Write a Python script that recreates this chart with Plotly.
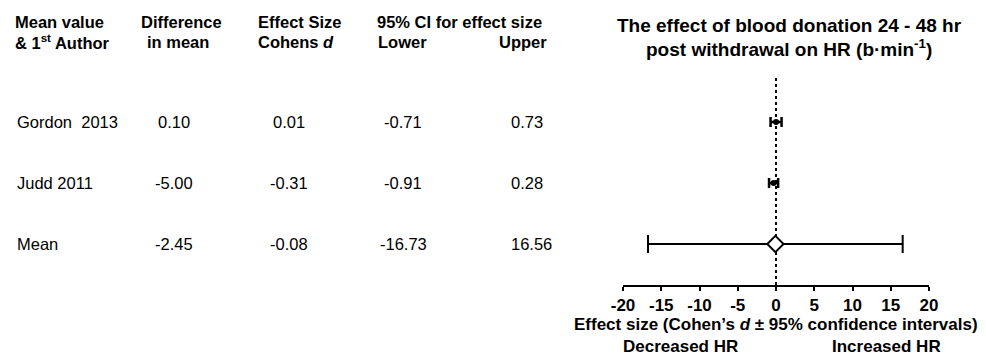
import plotly.graph_objects as go

W, H = 986, 363

# ---- data ----
authors = ["Gordon  2013", "Judd 2011", "Mean"]
diff_mean = [0.10, -5.00, -2.45]
cohens_d = [0.01, -0.31, -0.08]
ci_lower = [-0.71, -0.91, -16.73]
ci_upper = [0.73, 0.28, 16.56]
row_pos = [3, 2, 1]
x_ticks = [-20, -15, -10, -5, 0, 5, 10, 15, 20]

FONT = "Arial, Liberation Sans, Helvetica, sans-serif"


def px(x):
    return x / W


def py(y):
    return 1 - y / H


fig = go.Figure()

# dotted zero line
fig.add_shape(type="line", x0=0, x1=0, xref="x", y0=0, y1=1, yref="y domain",
              line=dict(color="black", width=2, dash="dot"), layer="below")

# studies
fig.add_trace(go.Scatter(
    x=cohens_d[:2], y=row_pos[:2], mode="markers",
    marker=dict(symbol="circle", size=6, color="black"),
    error_x=dict(type="data", symmetric=False,
                 array=[u - d for u, d in zip(ci_upper[:2], cohens_d[:2])],
                 arrayminus=[d - l for d, l in zip(cohens_d[:2], ci_lower[:2])],
                 color="black", thickness=2.5, width=5),
    showlegend=False, hoverinfo="skip"))

# pooled mean
fig.add_trace(go.Scatter(
    x=cohens_d[2:], y=row_pos[2:], mode="markers",
    marker=dict(symbol="diamond", size=12.5, color="white", line=dict(color="black", width=2)),
    error_x=dict(type="data", symmetric=False,
                 array=[ci_upper[2] - cohens_d[2]],
                 arrayminus=[cohens_d[2] - ci_lower[2]],
                 color="black", thickness=2, width=9),
    showlegend=False, hoverinfo="skip"))

fig.update_layout(
    width=W, height=H,
    margin=dict(l=0, r=0, t=0, b=0, pad=0, autoexpand=False),
    paper_bgcolor="white", plot_bgcolor="white",
    font=dict(family=FONT, color="black"),
    xaxis=dict(domain=[px(623), px(929)], range=[-20, 20], tickvals=x_ticks,
               ticktext=["<b>%d</b>" % v for v in x_ticks],
               showline=True, linecolor="black", linewidth=2,
               ticks="outside", ticklen=4, tickwidth=2, tickcolor="black",
               tickfont=dict(size=17, family=FONT, color="black"),
               showgrid=False, zeroline=False, anchor="y", automargin=False),
    yaxis=dict(domain=[py(285), py(78)], range=[1 - 41 / 61, 3 + 44 / 61],
               visible=False, showgrid=False, zeroline=False, automargin=False),
)

ann = []


def add(text, x, y, size=16.5, xanchor="center", bold=False):
    if bold:
        text = "<b>" + text + "</b>"
    ann.append(dict(text=text, x=px(x), y=py(y), xref="paper", yref="paper",
                    xanchor=xanchor, yanchor="middle", showarrow=False,
                    borderpad=0,
                    font=dict(size=size, family=FONT, color="black")))


# headers
hs = 16.5
add("Mean value", 14, 22, hs, "left", True)
add("& 1<sup>st</sup> Author", 14, 42, hs, "left", True)
add("Difference", 140, 22, hs, "left", True)
add("in mean", 146, 42, hs, "left", True)
add("Effect Size", 257, 22, hs, "left", True)
add("Cohens <i>d</i>", 257, 42, hs, "left", True)
add("95% CI for effect size", 376, 22, hs, "left", True)
add("Lower", 377, 42, hs, "left", True)
add("Upper", 548, 42, hs, "right", True)

# table rows
bs = 16.5
row_y = [122, 183, 244]
for i in range(3):
    y = row_y[i]
    add(authors[i], 16, y, bs, "left")
    add("%.2f" % diff_mean[i], 174, y, bs, "center")
    add("%.2f" % cohens_d[i], 289, y, bs, "center")
    add("%.2f" % ci_lower[i], 403, y, bs, "center")
    add("%.2f" % ci_upper[i], 510, y, bs, "left")

# title
add("The effect of blood donation 24 - 48 hr", 789, 25.5, 19, "center", True)
add("post withdrawal on HR (b·min<sup>-1</sup>)", 789, 48, 19, "center", True)

# axis title and direction labels
add("Effect size (Cohen’s <i>d</i> ± 95% confidence intervals)", 776, 324, 17, "center", True)
add("Decreased HR", 680, 346, 17, "center", True)
add("Increased HR", 886, 346, 17, "center", True)

fig.update_layout(annotations=ann)

fig.write_html("out.html")
